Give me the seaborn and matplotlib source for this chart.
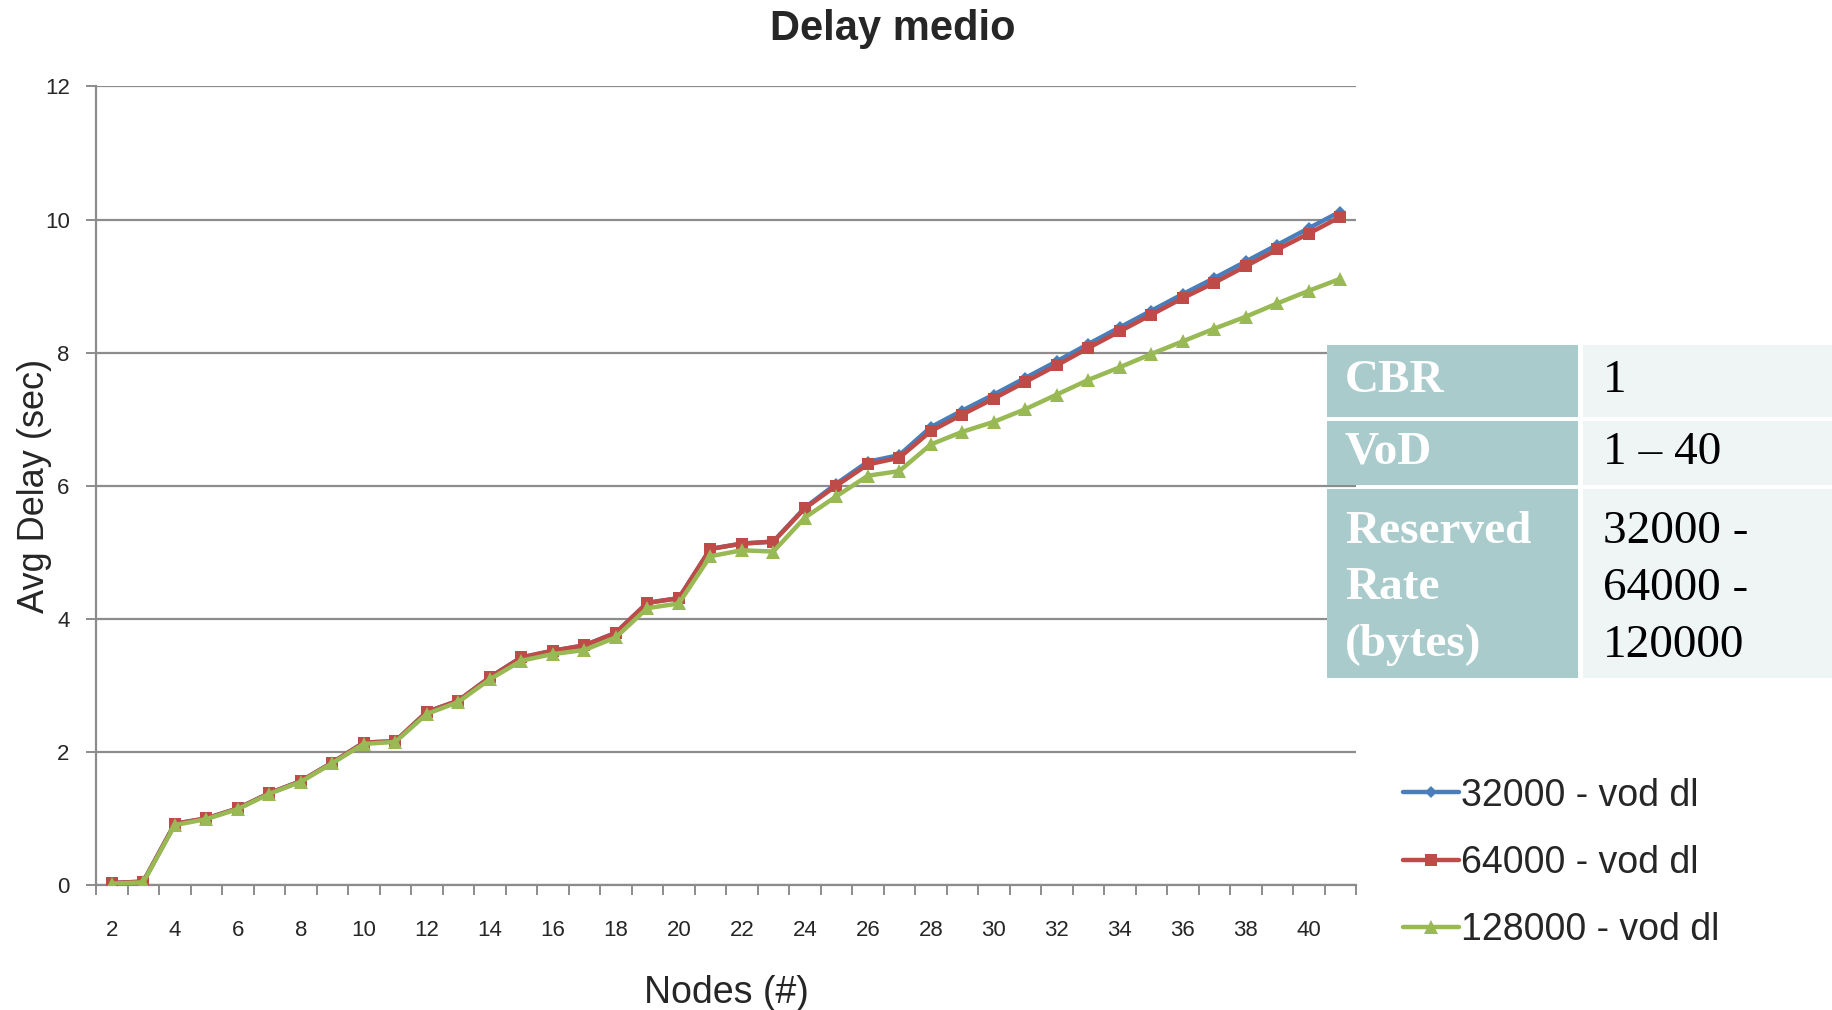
import numpy as np
import pandas as pd
import matplotlib
matplotlib.use("Agg")
import matplotlib.pyplot as plt
import seaborn as sns
from matplotlib.patches import Rectangle

nodes = list(range(2, 42))
s32000 = [0.03, 0.05, 0.92, 1.0, 1.15, 1.38, 1.56, 1.84, 2.14, 2.16,
          2.6, 2.77, 3.12, 3.42, 3.52, 3.6, 3.79, 4.24, 4.31, 5.05,
          5.13, 5.16, 5.67, 6.03, 6.36, 6.46, 6.88, 7.13, 7.37, 7.62,
          7.87, 8.13, 8.38, 8.63, 8.88, 9.12, 9.37, 9.62, 9.87, 10.12]
s64000 = [0.03, 0.05, 0.92, 1.0, 1.15, 1.38, 1.56, 1.84, 2.14, 2.16,
          2.6, 2.77, 3.12, 3.42, 3.52, 3.6, 3.79, 4.24, 4.31, 5.05,
          5.13, 5.16, 5.66, 6.0, 6.32, 6.42, 6.82, 7.07, 7.31, 7.56,
          7.81, 8.07, 8.32, 8.57, 8.82, 9.05, 9.3, 9.55, 9.79, 10.04]
s128000 = [0.02, 0.04, 0.9, 0.99, 1.14, 1.37, 1.55, 1.83, 2.12, 2.15,
           2.57, 2.75, 3.09, 3.37, 3.47, 3.53, 3.72, 4.16, 4.23, 4.94,
           5.03, 5.01, 5.52, 5.84, 6.15, 6.22, 6.62, 6.81, 6.96, 7.15,
           7.37, 7.59, 7.78, 7.98, 8.17, 8.36, 8.54, 8.74, 8.93, 9.11]
series_names = ["32000 - vod dl", "64000 - vod dl", "128000 - vod dl"]
y_ticks = [0, 2, 4, 6, 8, 10, 12]
x_tick_labels = list(range(2, 41, 2))

table_left = ["CBR", "VoD", "Reserved\nRate\n(bytes)"]
table_right = ["1", "1 \u2013 40", "32000 -\n64000 -\n120000"]

df = pd.DataFrame({
    "Nodes": nodes * 3,
    "Delay": s32000 + s64000 + s128000,
    "Series": sum([[n] * len(nodes) for n in series_names], []),
})

sns.set_style("white")
plt.rcParams["font.family"] = ["Liberation Sans Narrow", "Liberation Sans", "DejaVu Sans"]

colors = {"32000 - vod dl": "#4A7EBB", "64000 - vod dl": "#BE4B48", "128000 - vod dl": "#98B954"}
markers = {"32000 - vod dl": "D", "64000 - vod dl": "s", "128000 - vod dl": "^"}
msizes = {"32000 - vod dl": 6, "64000 - vod dl": 8.5, "128000 - vod dl": 9.5}

fig = plt.figure(figsize=(18.33, 10.10), dpi=100)
ax = fig.add_axes([0.0524, 0.1238, 0.6874, 0.7906])

sns.lineplot(data=df, x="Nodes", y="Delay", hue="Series", style="Series",
             palette=colors, markers=markers, dashes=False, linewidth=3.2,
             markeredgewidth=0, ax=ax, legend=False, zorder=3)
for line, name in zip(ax.get_lines(), series_names):
    line.set_markersize(msizes[name])

ax.set_xlim(1.5, 41.5)
ax.set_ylim(0, 12)
ax.set_yticks(y_ticks)
ax.set_yticklabels([str(v) for v in y_ticks], fontsize=16)
ax.yaxis.grid(True, color="#8C8C8C", linewidth=1.6)
ax.set_axisbelow(True)

ax.set_xticks(np.arange(1.5, 42.0, 1.0))
ax.set_xticklabels([])
ax.set_xticks(x_tick_labels, minor=True)
ax.set_xticklabels([str(v) for v in x_tick_labels], minor=True, fontsize=16)
ax.tick_params(axis="x", which="major", direction="out", length=7, width=1.4, color="#8C8C8C", bottom=True)
ax.tick_params(axis="x", which="minor", length=0, pad=25)
ax.tick_params(axis="y", which="major", direction="out", length=7, width=1.4, color="#8C8C8C", left=True, pad=12)

for side in ["top", "right"]:
    ax.spines[side].set_visible(False)
for side in ["left", "bottom"]:
    ax.spines[side].set_color("#8C8C8C")
    ax.spines[side].set_linewidth(1.6)

ax.set_xlabel("Nodes (#)", fontsize=27, labelpad=25)
ax.set_ylabel("Avg Delay (sec)", fontsize=26)
ax.yaxis.set_label_coords(-0.035, 0.5)
fig.text(0.487, 0.971, "Delay medio", ha="center", va="center", fontsize=30, fontweight="bold")

# legend
handles = [plt.Line2D([], [], color=colors[n], marker=markers[n], markersize=msizes[n],
                      linewidth=3.2, markeredgewidth=0) for n in series_names]
fig.legend(handles, series_names, loc="upper left", bbox_to_anchor=(0.757, 0.245),
           frameon=False, fontsize=27, handlelength=1.5, handletextpad=0.05,
           labelspacing=0.83, borderaxespad=0)

# table overlay
W, H = 1833.0, 1010.0
left_col = (1327, 1578)
right_col = (1583, 1833)
rows = [(345, 417), (421, 485), (489, 678)]
offsets = [0, 0, 5]
for (y0, y1), lt, rt, off in zip(rows, table_left, table_right, offsets):
    fig.patches.append(Rectangle((left_col[0] / W, 1 - y1 / H), (left_col[1] - left_col[0]) / W,
                                 (y1 - y0) / H, transform=fig.transFigure, facecolor="#AACBCB",
                                 edgecolor="none", zorder=5))
    fig.patches.append(Rectangle((right_col[0] / W, 1 - y1 / H), (right_col[1] - right_col[0]) / W,
                                 (y1 - y0) / H, transform=fig.transFigure, facecolor="#EFF5F5",
                                 edgecolor="none", zorder=5))
    yc = 1 - ((y0 + y1) / 2 + off) / H
    fig.text((left_col[0] + 18) / W, yc, lt, ha="left", va="center", fontsize=34,
             fontweight="bold", color="white", family="Liberation Serif", linespacing=1.45, zorder=6)
    fig.text((right_col[0] + 20) / W, yc, rt, ha="left", va="center", fontsize=34,
             color="black", family="Liberation Serif", linespacing=1.45, zorder=6)

fig.savefig("out.png", dpi=100)
